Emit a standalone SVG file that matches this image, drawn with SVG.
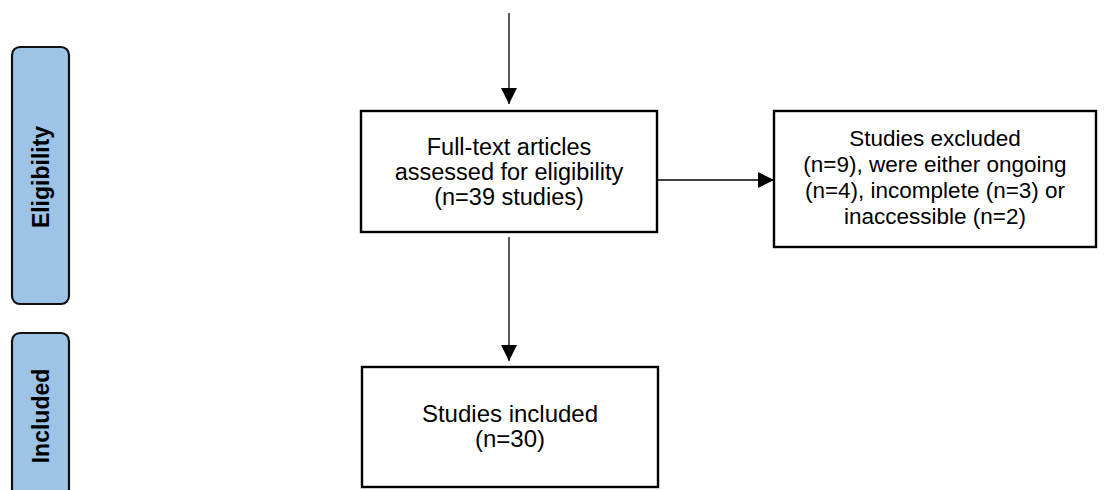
<svg xmlns="http://www.w3.org/2000/svg" width="1104" height="490" viewBox="0 0 1104 490">
<style>
.bar{fill:#9dc3e6;stroke:#111;stroke-width:2.2}
.box{fill:#fff;stroke:#000;stroke-width:2.4}
.t{font-family:"Liberation Sans",Arial,sans-serif;font-size:22.5px;fill:#000;text-anchor:middle}
.m{font-size:23.5px}
.i{font-size:24px}
.bt{font-family:"Liberation Sans",Arial,sans-serif;font-size:23px;font-weight:bold;fill:#000;text-anchor:middle;dominant-baseline:central}
.c{stroke:#000;stroke-width:1.3;fill:none;marker-end:url(#ah)}
</style>
<defs>
<marker id="ah" viewBox="0 0 16 16" refX="16" refY="8" markerWidth="16" markerHeight="16" markerUnits="userSpaceOnUse" orient="auto">
<path d="M0,0 L16,8 L0,16 Z" fill="#000"/>
</marker>
</defs>
<rect width="1104" height="490" fill="#fff"/>
<g id="bar-eligibility">
<rect class="bar" x="12" y="47" width="57" height="257" rx="8"/>
<text class="bt" transform="translate(41,177) rotate(-90)">Eligibility</text>
</g>
<g id="bar-included">
<rect class="bar" x="12" y="333" width="57" height="180" rx="8"/>
<text class="bt" transform="translate(41,416) rotate(-90)">Included</text>
</g>
<g id="connectors">
<path class="c" d="M509,13 V104"/>
<path class="c" d="M657,180 H774"/>
<path class="c" d="M509,237 V361"/>
</g>
<g id="node-fulltext">
<rect class="box" x="361" y="111" width="296" height="121"/>
<text class="t m" x="509" y="155">Full-text articles</text>
<text class="t m" x="509" y="180">assessed for eligibility</text>
<text class="t m" x="509" y="205">(n=39 studies)</text>
</g>
<g id="node-excluded">
<rect class="box" x="774" y="111" width="322" height="136"/>
<text class="t" x="935" y="146">Studies excluded</text>
<text class="t" x="935" y="172">(n=9), were either ongoing</text>
<text class="t" x="935" y="198">(n=4), incomplete (n=3) or</text>
<text class="t" x="935" y="224">inaccessible (n=2)</text>
</g>
<g id="node-included">
<rect class="box" x="362" y="367" width="296" height="120"/>
<text class="t i" x="510" y="422">Studies included</text>
<text class="t i" x="510" y="447">(n=30)</text>
</g>
</svg>
